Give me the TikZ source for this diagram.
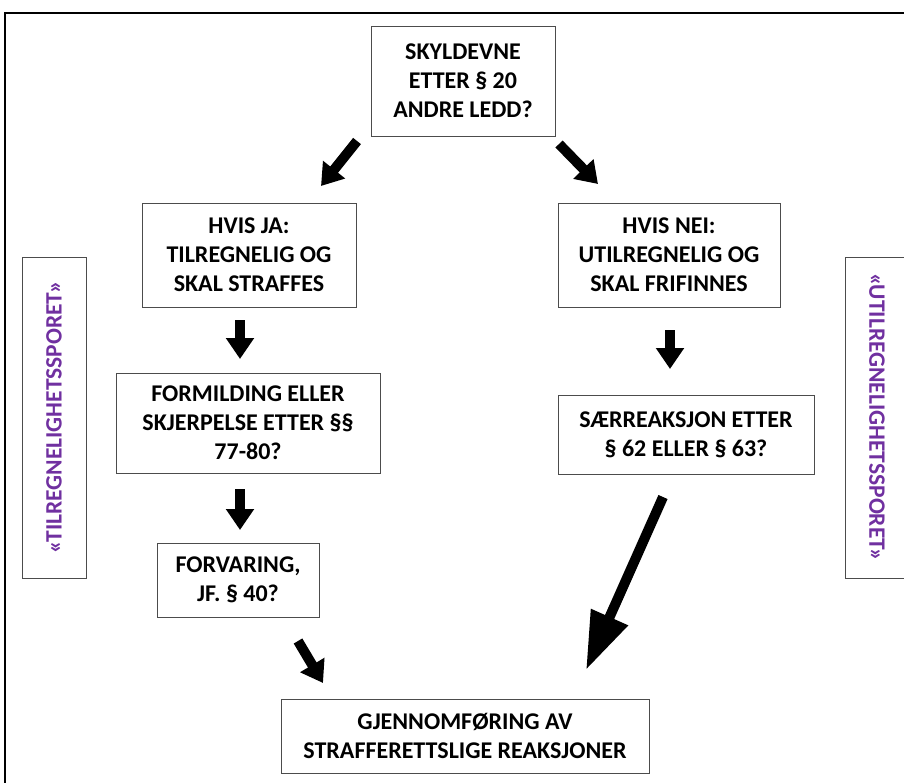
\documentclass[tikz,border=0pt]{standalone}
\usepackage{fontspec}
\setmainfont{Carlito}
\usetikzlibrary{arrows.meta}

\definecolor{sporlilla}{RGB}{112,48,160}

\tikzset{
  boks/.style={draw=black!70, line width=0.9pt, align=center, inner sep=0pt,
    font=\fontsize{24}{29}\selectfont\bfseries},
  sidespor/.style={draw=black!70, line width=0.9pt, inner sep=0pt,
    minimum width=321pt, minimum height=64pt, text=sporlilla,
    font=\fontsize{23.5}{28}\selectfont\bfseries},
  pil/.style={line width=10pt, -{Triangle[length=21pt,width=27pt]}},
  storpil/.style={line width=10pt, -{Triangle[length=58pt,width=38pt]}}
}

\begin{document}
\begin{tikzpicture}[x=1pt,y=-1pt]
    \useasboundingbox (0,0) rectangle (904,782);
    \clip (0,0) rectangle (904,782);
    \draw[line width=2pt] (5,13) rectangle (920,800);

    % boksene
    \node[boks, minimum width=184pt, minimum height=110pt] (skyld) at (463,81)
        {SKYLDEVNE\\ETTER § 20\\ANDRE LEDD?};
    \node[boks, minimum width=214pt, minimum height=104pt] (ja) at (249,255)
        {HVIS JA:\\TILREGNELIG OG\\SKAL STRAFFES};
    \node[boks, minimum width=222pt, minimum height=104pt] (nei) at (669,255)
        {HVIS NEI:\\UTILREGNELIG OG\\SKAL FRIFINNES};
    \node[boks, minimum width=264pt, minimum height=100pt] (formild) at (248,423)
        {FORMILDING ELLER\\SKJERPELSE ETTER §§\\77-80?};
    \node[boks, minimum width=256pt, minimum height=79pt] (saer) at (686,434.5)
        {SÆRREAKSJON ETTER\\§ 62 ELLER § 63?};
    \node[boks, minimum width=162pt, minimum height=74pt] (forvar) at (238,580)
        {FORVARING,\\JF. § 40?};
    \node[boks, minimum width=368pt, minimum height=74pt] (gjennom) at (465,736)
        {GJENNOMFØRING AV\\STRAFFERETTSLIGE REAKSJONER};

    % sporene
    \node[sidespor, rotate=90] (tilspor) at (54,417.5)
        {«\kern-1.5pt TILREGNELIGHETSSPORET\kern-1.5pt»};
    \node[sidespor, rotate=-90] (utilspor) at (877,417.5)
        {«\kern-1.5pt UTILREGNELIGHETSSPORET\kern-1.5pt»};

    % pilene
    \coordinate (a1) at (357,141);  \coordinate (a2) at (321,186);
    \coordinate (b1) at (559,144);  \coordinate (b2) at (598,184);
    \coordinate (c1) at (240,320);  \coordinate (c2) at (240,359);
    \coordinate (d1) at (240,489);  \coordinate (d2) at (240,530);
    \coordinate (e1) at (670,330);  \coordinate (e2) at (670,369);
    \coordinate (f1) at (298,641);  \coordinate (f2) at (323,683);
    \coordinate (g1) at (663,497);  \coordinate (g2) at (586,670);
    \draw[pil] (a1) -- (a2);
    \draw[pil] (b1) -- (b2);
    \draw[pil] (c1) -- (c2);
    \draw[pil] (d1) -- (d2);
    \draw[pil] (e1) -- (e2);
    \draw[pil] (f1) -- (f2);
    \draw[storpil] (g1) -- (g2);
\end{tikzpicture}
\end{document}
